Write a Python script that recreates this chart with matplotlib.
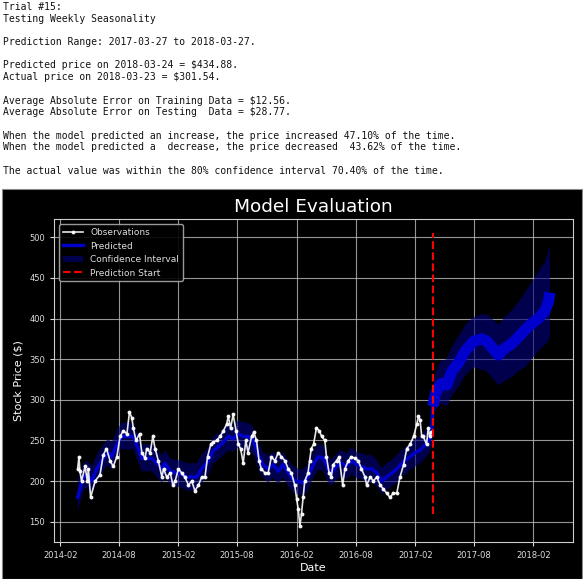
import matplotlib
matplotlib.use('Agg')
import matplotlib.pyplot as plt
import matplotlib.dates as mdates
from matplotlib.patches import Rectangle
import pandas as pd

# TEXT PRINTED ABOVE THE CHART
report_lines = [
    "Trial #15:",
    "Testing Weekly Seasonality",
    "",
    "Prediction Range: 2017-03-27 to 2018-03-27.",
    "",
    "Predicted price on 2018-03-24 = $434.88.",
    "Actual price on 2018-03-23 = $301.54.",
    "",
    "Average Absolute Error on Training Data = $12.56.",
    "Average Absolute Error on Testing  Data = $28.77.",
    "",
    "When the model predicted an increase, the price increased 47.10% of the time.",
    "When the model predicted a  decrease, the price decreased  43.62% of the time.",
    "",
    "The actual value was within the 80% confidence interval 70.40% of the time.",
]

obs_dates = [
    "2014-03-27", "2014-03-31", "2014-04-03", "2014-04-08", "2014-04-19", "2014-04-26",
    "2014-04-29", "2014-05-06", "2014-05-20", "2014-06-04", "2014-06-14", "2014-06-24",
    "2014-07-05", "2014-07-15", "2014-07-26", "2014-08-05", "2014-08-15", "2014-08-26",
    "2014-09-03", "2014-09-10", "2014-09-15", "2014-09-23", "2014-10-04", "2014-10-11",
    "2014-10-21", "2014-10-26", "2014-11-06", "2014-11-14", "2014-11-21", "2014-12-01",
    "2014-12-12", "2014-12-17", "2014-12-27", "2015-01-07", "2015-01-15", "2015-01-22",
    "2015-02-01", "2015-02-11", "2015-02-21", "2015-03-04", "2015-03-14", "2015-03-24",
    "2015-04-04", "2015-04-14", "2015-04-24", "2015-05-02", "2015-05-12", "2015-05-20",
    "2015-05-30", "2015-06-10", "2015-06-20", "2015-06-30", "2015-07-05", "2015-07-12",
    "2015-07-20", "2015-07-29", "2015-08-05", "2015-08-12", "2015-08-20", "2015-08-28",
    "2015-09-04", "2015-09-15", "2015-09-22", "2015-09-30", "2015-10-08", "2015-10-15",
    "2015-10-26", "2015-11-05", "2015-11-15", "2015-11-26", "2015-12-06", "2015-12-16",
    "2015-12-27", "2016-01-06", "2016-01-16", "2016-01-26", "2016-02-01", "2016-02-06",
    "2016-02-11", "2016-02-16", "2016-02-21", "2016-02-26", "2016-03-07", "2016-03-12",
    "2016-03-17", "2016-03-24", "2016-04-02", "2016-04-11", "2016-04-18", "2016-04-28",
    "2016-05-03", "2016-05-11", "2016-05-18", "2016-05-23", "2016-06-03", "2016-06-11",
    "2016-06-22", "2016-06-29", "2016-07-09", "2016-07-19", "2016-07-30", "2016-08-09",
    "2016-08-19", "2016-08-30", "2016-09-04", "2016-09-15", "2016-09-25", "2016-10-05",
    "2016-10-16", "2016-10-26", "2016-11-05", "2016-11-15", "2016-11-25", "2016-12-06",
    "2016-12-16", "2016-12-27", "2017-01-06", "2017-01-16", "2017-01-27", "2017-02-06",
    "2017-02-11", "2017-02-16", "2017-02-21", "2017-02-26", "2017-03-08", "2017-03-13",
    "2017-03-18", "2017-03-23",
]
obs_values = [
    215, 230, 212, 200, 218, 200,
    215, 180, 200, 208, 232, 240,
    225, 218, 230, 255, 262, 258,
    285, 278, 265, 250, 258, 235,
    228, 240, 235, 255, 240, 225,
    205, 215, 205, 210, 195, 200,
    215, 210, 205, 195, 200, 188,
    195, 205, 205, 230, 245, 248,
    250, 255, 262, 270, 280, 265,
    282, 262, 245, 240, 222, 250,
    235, 255, 260, 250, 225, 215,
    210, 210, 230, 225, 235, 230,
    225, 215, 210, 195, 178, 165,
    145, 160, 180, 200, 210, 225,
    240, 245, 265, 262, 255, 250,
    230, 210, 205, 220, 225, 230,
    195, 215, 225, 230, 228, 225,
    215, 205, 195, 205, 200, 205,
    195, 190, 185, 180, 185, 185,
    205, 220, 240, 245, 255, 270,
    280, 275, 255, 255, 245, 265,
    255, 260,
]

# MODEL PREDICTION WITH 80% INTERVAL
pred_dates = [
    "2014-03-27", "2014-04-14", "2014-04-26", "2014-05-10", "2014-05-25", "2014-06-14",
    "2014-06-29", "2014-07-10", "2014-07-26", "2014-08-10", "2014-08-31", "2014-09-15",
    "2014-09-25", "2014-10-11", "2014-10-26", "2014-11-11", "2014-11-26", "2014-12-12",
    "2014-12-22", "2015-01-07", "2015-01-27", "2015-02-11", "2015-02-27", "2015-03-14",
    "2015-03-30", "2015-04-14", "2015-05-05", "2015-05-20", "2015-06-04", "2015-06-20",
    "2015-07-05", "2015-07-20", "2015-08-05", "2015-08-20", "2015-09-04", "2015-09-20",
    "2015-10-05", "2015-10-20", "2015-11-05", "2015-11-21", "2015-12-06", "2015-12-21",
    "2016-01-06", "2016-01-21", "2016-02-01", "2016-02-21", "2016-03-07", "2016-03-23",
    "2016-04-08", "2016-04-23", "2016-05-08", "2016-05-18", "2016-06-03", "2016-06-19",
    "2016-07-04", "2016-07-19", "2016-08-04", "2016-08-19", "2016-09-04", "2016-09-20",
    "2016-10-05", "2016-10-21", "2016-11-05", "2016-11-21", "2016-12-06", "2016-12-22",
    "2017-01-01", "2017-01-16", "2017-02-01", "2017-02-16", "2017-03-04", "2017-03-18",
    "2017-03-24", "2017-03-27", "2017-04-03", "2017-04-13", "2017-04-23", "2017-05-09",
    "2017-05-25", "2017-06-14", "2017-07-05", "2017-07-31", "2017-08-26", "2017-09-10",
    "2017-10-01", "2017-10-16", "2017-10-31", "2017-11-26", "2017-12-16", "2018-01-06",
    "2018-01-27", "2018-02-16", "2018-03-09", "2018-03-19", "2018-03-24",
]
pred_values = [
    180, 205, 208, 200, 215, 228,
    235, 230, 245, 255, 255, 255,
    245, 228, 228, 228, 222, 215,
    222, 212, 210, 208, 205, 205,
    205, 215, 225, 238, 242, 248,
    255, 252, 258, 255, 255, 250,
    232, 220, 215, 220, 212, 220,
    210, 202, 200, 198, 205, 220,
    230, 228, 215, 210, 218, 222,
    218, 225, 220, 218, 215, 215,
    210, 200, 205, 210, 215, 222,
    225, 230, 235, 238, 245, 252,
    260, 292, 305, 315, 320, 318,
    335, 345, 360, 372, 375, 372,
    362, 355, 362, 369, 377, 386,
    394, 400, 410, 420, 432,
]
ci_upper = [
    200, 222, 225, 218, 232, 245,
    252, 248, 262, 272, 272, 270,
    262, 245, 245, 245, 238, 232,
    238, 228, 226, 225, 222, 222,
    222, 232, 242, 255, 258, 265,
    272, 268, 275, 272, 272, 266,
    248, 236, 232, 236, 230, 236,
    226, 218, 216, 214, 222, 236,
    246, 244, 232, 226, 234, 238,
    234, 242, 236, 234, 232, 232,
    226, 216, 222, 226, 232, 238,
    242, 246, 252, 255, 262, 268,
    276, 312, 330, 342, 348, 350,
    365, 378, 392, 402, 405, 405,
    398, 392, 400, 410, 420, 432,
    445, 458, 470, 482, 490,
]
ci_lower = [
    163, 188, 192, 185, 198, 212,
    220, 214, 228, 240, 238, 240,
    228, 212, 212, 212, 205, 198,
    205, 195, 193, 192, 188, 188,
    188, 198, 208, 222, 226, 232,
    238, 236, 242, 238, 238, 234,
    216, 204, 198, 204, 196, 204,
    194, 186, 184, 182, 188, 204,
    214, 212, 198, 194, 202, 206,
    202, 208, 204, 202, 198, 198,
    194, 184, 188, 194, 198, 206,
    208, 214, 218, 222, 228, 236,
    244, 272, 285, 292, 295, 292,
    305, 315, 330, 340, 337, 335,
    325, 318, 322, 328, 335, 340,
    350, 360, 368, 372, 378,
]

PRED_START = "2017-03-27"
VLINE_RANGE = (160, 505)

obs_dates = pd.to_datetime(obs_dates)
pred_dates = pd.to_datetime(pred_dates)
start = pd.Timestamp(PRED_START)
hist = pred_dates <= start
fut = pred_dates >= start
pred = pd.Series(pred_values, index=pred_dates)

# FIGURE
fig = plt.figure(figsize=(5.83, 5.79), dpi=100, facecolor='white')

for i, line in enumerate(report_lines):
    if line:
        fig.text(3 / 583, 1 - (7 + i * 11.7) / 579, line, ha='left', va='center',
                 family='DejaVu Sans Mono', fontsize=7.0, color='#111111')

# black panel holding the chart (drawn below the axes)
fig.patches.append(Rectangle((2 / 583, 0), 580 / 583, 390 / 579, transform=fig.transFigure,
                             facecolor='black', edgecolor='#888888', linewidth=0.8, zorder=-5))

ax = fig.add_axes([54 / 583, 37 / 579, 519 / 583, 323 / 579], facecolor='black')
ax.set_zorder(2)

ax.fill_between(pred_dates, ci_upper, ci_lower, facecolor='navy', alpha=0.6,
                edgecolor='none', label='Confidence Interval', zorder=2)
ax.plot(obs_dates, obs_values, 'o-', color='white', linewidth=1.2, alpha=0.9, ms=1.8,
        label='Observations', zorder=4)
ax.plot(pred.index[hist], pred.values[hist], color='#0000cc', linewidth=2.4,
        label='Predicted', zorder=3)
ax.plot(pred.index[fut], pred.values[fut], color='#0000cc', linewidth=8,
        solid_capstyle='butt', zorder=3)
ax.vlines(x=start, ymin=VLINE_RANGE[0], ymax=VLINE_RANGE[1], colors='r',
          linestyles='dashed', linewidth=1.5, label='Prediction Start', zorder=5)

ax.set_xlim(pd.Timestamp("2014-01-13"), pd.Timestamp("2018-06-03"))
ax.set_ylim(125, 522.5)
ax.set_yticks(range(150, 501, 50))
ax.xaxis.set_major_locator(mdates.MonthLocator(bymonth=[2, 8]))
ax.xaxis.set_major_formatter(mdates.DateFormatter('%Y-%m'))

ax.grid(True, color='#bbbbbb', linewidth=0.8, alpha=0.8, zorder=1)
ax.set_axisbelow(True)
for s in ax.spines.values():
    s.set_color('#cccccc')
ax.tick_params(colors='#dddddd', labelsize=6, length=3)

ax.set_title('Model Evaluation', color='white', fontsize=13.3, pad=5)
ax.set_xlabel('Date', color='white', fontsize=8, labelpad=2)
ax.set_ylabel('Stock Price ($)', color='white', fontsize=8, labelpad=4)

handles, labels = ax.get_legend_handles_labels()
order = [labels.index(n) for n in ['Observations', 'Predicted', 'Confidence Interval', 'Prediction Start']]
leg = ax.legend([handles[k] for k in order], [labels[k] for k in order], loc='upper left',
                fontsize=6.5, facecolor='black', edgecolor='#aaaaaa', framealpha=0.9,
                labelcolor='#dddddd', borderaxespad=0.6, handlelength=2.2)

fig.savefig('out.png', dpi=100, facecolor='white')
